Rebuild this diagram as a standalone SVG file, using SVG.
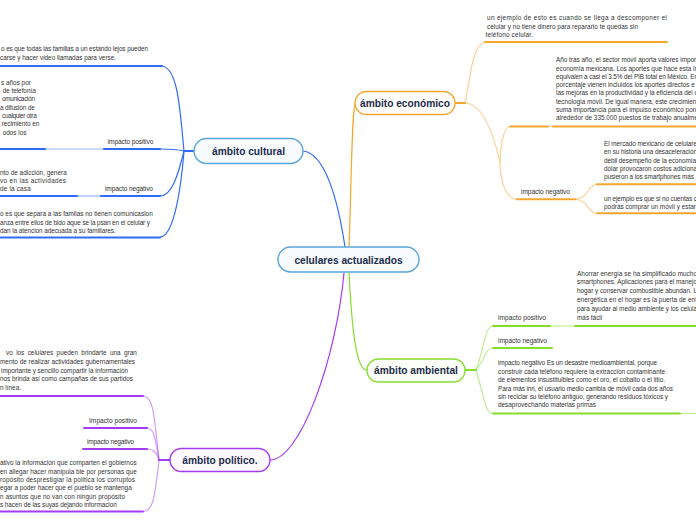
<svg xmlns="http://www.w3.org/2000/svg" width="696" height="520" viewBox="0 0 696 520">
<style>
text{font-family:"Liberation Sans",Arial,sans-serif;fill:#333;font-size:6.4px}
.lbl{font-size:6.6px}
.node text{font-weight:bold;fill:#1c2b4b;font-size:10.2px}
.u{fill:none;stroke-width:2;stroke-linecap:round}
.c{fill:none;stroke-width:1.2}
.blue{stroke:#2f6cf6}
.org{stroke:#f7a531}
.grn{stroke:#86dc2c}
.pur{stroke:#a53cf2}
.lt{stroke-opacity:0.5}
</style>
<rect width="696" height="520" fill="#ffffff"/>
<g id="connectors">
  <!-- main branches -->
  <path class="c blue" d="M345,247 C338,200 325,153 303,151" stroke-width="1.6"/>
  <path class="c org" d="M349,247 C352,160 352,103 356,103" stroke-width="1.6"/>
  <path class="c grn" d="M349,273 C352,330 356,370 367,370" stroke-width="1.6"/>
  <path class="c pur" d="M344,273 C336,360 300,460 270,460" stroke-width="1.6"/>
  <!-- cultural -->
  <path class="u blue" d="M184,151 L194,151"/>
  <path class="c blue" d="M184,151 C180,110 178,68 162,66"/>
  <path class="c blue" d="M184,151 C175,149 170,149 160,149"/>
  <path class="c blue" d="M184,151 C178,175 172,196 160,196"/>
  <path class="c blue" d="M184,151 C180,200 172,237 160,237"/>
  <path class="u blue" d="M0,66 L162,66"/>
  <path class="u blue" d="M104,149 L160,149"/>
  <path class="c blue lt" d="M45,149 L104,149"/>
  <path class="u blue" d="M0,149 L45,149"/>
  <path class="u blue" d="M101,196 L160,196"/>
  <path class="c blue lt" d="M77,196 L101,196"/>
  <path class="u blue" d="M0,196 L77,196"/>
  <path class="u blue" d="M0,237.5 L160,237.5"/>
  <!-- economico -->
  <path class="u org" d="M455,103 L465,103"/>
  <path class="c org lt" d="M465,103 C470,80 472,45 485,42"/>
  <path class="c org lt" d="M465,103 C485,103 496,145 500,162"/>
  <path class="c org lt" d="M510,126.5 C503,126.5 500,150 500,162 C500,178 505,199.3 517,199.3"/>
  <path class="u org" d="M485,42 L667,42"/>
  <path class="u org" d="M510,126.5 L548,126.5"/>
  <path class="c org lt" d="M548,126.5 L553,126.5"/>
  <path class="u org" d="M553,126.5 L696,126.5"/>
  <path class="u org" d="M517,199.3 L575,199.3"/>
  <path class="c org lt" d="M575,199.3 C588,199.3 588,184.3 597,184.3"/>
  <path class="c org lt" d="M575,199.3 C588,199.3 588,213.3 597,213.3"/>
  <path class="u org" d="M597,184.3 L696,184.3"/>
  <path class="u org" d="M597,213.3 L696,213.3"/>
  <!-- ambiental -->
  <path class="u grn" d="M465,370 L476,370"/>
  <path class="c grn lt" d="M476,370 C485,345 485,326 493,326"/>
  <path class="c grn lt" d="M476,370 C485,360 485,348 493,348"/>
  <path class="c grn lt" d="M476,370 C485,400 485,413.5 493,413.5"/>
  <path class="u grn" d="M493,326 L550,326"/>
  <path class="c grn lt" d="M550,326 L575,326"/>
  <path class="u grn" d="M575,326 L696,326"/>
  <path class="u grn" d="M493,348 L552,348"/>
  <path class="u grn" d="M493,413.5 L680,413.5"/>
  <path class="c grn lt" d="M680,413.5 L696,413.5"/>
  <!-- politico -->
  <path class="u pur" d="M159,460 L170,460"/>
  <path class="c pur lt" d="M159,460 C154,412 153,396 143,396"/>
  <path class="c pur lt" d="M159,460 C155,437 154,428 147,428"/>
  <path class="c pur lt" d="M159,460 C156,452 154,449 147,449"/>
  <path class="c pur lt" d="M159,460 C155,497 153,511.5 143,511.5"/>
  <path class="u pur" d="M0,396 L143,396"/>
  <path class="u pur" d="M84,428 L147,428"/>
  <path class="u pur" d="M83,449 L147,449"/>
  <path class="u pur" d="M0,511.5 L143,511.5"/>
</g>
<g id="central" class="node">
  <rect x="278" y="247" width="141" height="25" rx="12.5" fill="#f7fbfe" stroke="#5aa5dc" stroke-width="1.4"/>
  <text x="348.5" y="263.5" text-anchor="middle" font-size="10.4px">celulares actualizados</text>
</g>
<g id="cultural" class="node">
  <rect x="194" y="138.5" width="109" height="25" rx="12.5" fill="#f7fbfe" stroke="#5aa5dc" stroke-width="1.4"/>
  <text x="248.5" y="155" text-anchor="middle">ámbito cultural</text>
</g>
<g id="economico" class="node">
  <rect x="355" y="91.5" width="100" height="23" rx="11.5" fill="#fffdf9" stroke="#f7a531" stroke-width="1.4"/>
  <text x="405" y="106.5" text-anchor="middle" font-size="9.4px">ámbito económico</text>
</g>
<g id="ambiental" class="node">
  <rect x="367" y="359" width="98" height="23" rx="11.5" fill="#fbfff7" stroke="#86dc2c" stroke-width="1.4"/>
  <text x="416" y="374" text-anchor="middle" font-size="9.4px">ámbito  ambiental</text>
</g>
<g id="politico" class="node">
  <rect x="170" y="448.5" width="100" height="23" rx="11.5" fill="#fdf9ff" stroke="#a53cf2" stroke-width="1.4"/>
  <text x="220" y="463.5" text-anchor="middle" font-size="9.4px">ámbito  político.</text>
</g>
<g id="cultural-texts">
  <text x="1" y="50.5" textLength="147" lengthAdjust="spacing">o es que todas las familias a un estando lejos pueden</text>
  <text x="0" y="59.5" textLength="116" lengthAdjust="spacing">carse y hacer video llamadas para verse.</text>
  <text x="1" y="85" font-size="6.9px">s años por</text>
  <text x="2.7" y="93.2" textLength="33" lengthAdjust="spacing">de telefonía</text>
  <text x="2" y="101.4" textLength="33" lengthAdjust="spacing">omunicación</text>
  <text x="0" y="109.6" textLength="34.7" lengthAdjust="spacing">a difusión de</text>
  <text x="2" y="117.8" textLength="34.7" lengthAdjust="spacing">cualquier otra</text>
  <text x="1.7" y="126.2" textLength="37.6" lengthAdjust="spacing">recimiento en</text>
  <text x="2.7" y="135.2">odos los</text>
  <text class="lbl" x="107.7" y="144" textLength="45.6" lengthAdjust="spacing">impacto positivo</text>
  <text x="0" y="174.6" textLength="66.7" lengthAdjust="spacing">nto de adicción, genera</text>
  <text x="0" y="183" textLength="66" lengthAdjust="spacing">vo en las actividades</text>
  <text x="0" y="191.3" textLength="30.7" lengthAdjust="spacing">de la casa</text>
  <text class="lbl" x="105" y="191.3" textLength="48" lengthAdjust="spacing">impacto negativo</text>
  <text x="0" y="215.6" textLength="152.7" lengthAdjust="spacing">o  es que separa a las familas  no tienen comunicasion</text>
  <text x="0" y="224.6" textLength="150" lengthAdjust="spacing">anza entre ellos de bido aque se la psan en el celular y</text>
  <text x="0" y="233" textLength="115.7" lengthAdjust="spacing">dan la atencion adecuada a su familiares.</text>
</g>
<g id="economico-texts">
  <text x="487" y="20" textLength="180" lengthAdjust="spacing">un ejemplo de esto es cuando se llega a descomponer el</text>
  <text x="487" y="28.6" textLength="151" lengthAdjust="spacing">celular y no tiene dinero para repararlo te quedas sin</text>
  <text x="485.5" y="37.3" textLength="47.5" lengthAdjust="spacing">teléfono celular.</text>
  <text x="556" y="62.3" textLength="142" lengthAdjust="spacing">Año tras año, el sector móvil aporta valores import</text>
  <text x="556" y="70.5" textLength="142" lengthAdjust="spacing">economía mexicana. Los aportes que hace esta in</text>
  <text x="556" y="78.8" textLength="142" lengthAdjust="spacing">equivalen a casi el 3.5% del PIB total en México. En</text>
  <text x="556" y="87" textLength="142" lengthAdjust="spacing">porcentaje vienen incluidos los aportes directos e i</text>
  <text x="556" y="95.3" textLength="142" lengthAdjust="spacing">las mejoras en la productividad y la eficiencia del u</text>
  <text x="556" y="103.5" textLength="142" lengthAdjust="spacing">tecnología móvil. De igual manera, este crecimient</text>
  <text x="556" y="111.8" textLength="142" lengthAdjust="spacing">suma importancia para el impulso económico porc</text>
  <text x="556" y="120" textLength="142" lengthAdjust="spacing">alrededor de 335.000 puestos de trabajo anualme</text>
  <text x="604" y="146.3" textLength="93" lengthAdjust="spacing">El mercado mexicano de celulare</text>
  <text x="604" y="154.4" textLength="93" lengthAdjust="spacing">en su historia una desaceleración</text>
  <text x="604" y="162.5" textLength="92" lengthAdjust="spacing">débil desempeño de la economía</text>
  <text x="604" y="170.8" textLength="93" lengthAdjust="spacing">dólar provocaron costos adiciona</text>
  <text x="604" y="179" textLength="90" lengthAdjust="spacing">pusieron a los smartphones más</text>
  <text class="lbl" x="521" y="194" textLength="49" lengthAdjust="spacing">impacto negativo</text>
  <text x="604" y="200.6" textLength="93" lengthAdjust="spacing">un ejemplo es que si no cuentas c</text>
  <text x="604" y="209" textLength="92" lengthAdjust="spacing">podrás comprar un móvil y estar</text>
</g>
<g id="ambiental-texts">
  <text x="577" y="275.5" textLength="120" lengthAdjust="spacing">Ahorrar energía se ha simplificado mucho</text>
  <text x="577" y="284.4" textLength="120" lengthAdjust="spacing">smartphones. Aplicaciones para el manejo</text>
  <text x="577" y="293.3" textLength="120" lengthAdjust="spacing">hogar y conservar combustible abundan. L</text>
  <text x="577" y="302.2" textLength="120" lengthAdjust="spacing">energética en el hogar es la puerta de ent</text>
  <text x="577" y="311.1" textLength="120" lengthAdjust="spacing">para ayudar al medio ambiente y los celula</text>
  <text x="577" y="320">más fácil</text>
  <text class="lbl" x="498" y="320" textLength="48" lengthAdjust="spacing">impacto positivo</text>
  <text class="lbl" x="498" y="343" textLength="49" lengthAdjust="spacing">impacto negativo</text>
  <text x="498" y="365.3" textLength="159" lengthAdjust="spacing">impacto negativo Es un desastre medioambiental, porque</text>
  <text x="498" y="373.7" textLength="167" lengthAdjust="spacing">construir cada teléfono requiere la extracción contaminante</text>
  <text x="498" y="382.1" textLength="167" lengthAdjust="spacing">de elementos insustituibles como el oro, el cobalto o el litio.</text>
  <text x="498" y="390.5" textLength="175" lengthAdjust="spacing">Para más inri, el usuario medio cambia de móvil cada dos años</text>
  <text x="498" y="398.9" textLength="170" lengthAdjust="spacing">sin reciclar su teléfono antiguo, generando residuos tóxicos y</text>
  <text x="498" y="407.3" textLength="98" lengthAdjust="spacing">desaprovechando materias primas</text>
</g>
<g id="politico-texts">
  <text x="6" y="355" font-size="6.8px" word-spacing="1.6">vo  los celulares  pueden brindarte  una gran</text>
  <text x="0" y="363.8" textLength="135" lengthAdjust="spacing">mento  de realizar actividades gubernamentales</text>
  <text x="1" y="372.5" textLength="127" lengthAdjust="spacing">importante y sencillo compartir la información</text>
  <text x="0" y="381.2" textLength="133" lengthAdjust="spacing">nos brinda así como campañas de sus partidos</text>
  <text x="0" y="390">n línea.</text>
  <text class="lbl" x="89" y="423.3" textLength="48" lengthAdjust="spacing">Impacto  positivo</text>
  <text class="lbl" x="87" y="443.8" textLength="47" lengthAdjust="spacing">impacto negativo</text>
  <text x="0" y="465.3" textLength="136.7" lengthAdjust="spacing">ativo la información que  comparten el gobiernos</text>
  <text x="0" y="473.6" textLength="136.7" lengthAdjust="spacing">en allegar hacer manipula ble por personas que</text>
  <text x="0" y="481.9" textLength="135" lengthAdjust="spacing">ropósito desprestigiar  la politica los corruptos</text>
  <text x="0" y="490.2" textLength="131.7" lengthAdjust="spacing">egar a poder hacer que el pueblo se mantenga</text>
  <text x="0" y="498.5" textLength="125" lengthAdjust="spacing">n asuntos que no van con ningún propósito</text>
  <text x="0" y="506.8" textLength="116.7" lengthAdjust="spacing">s hacen de las suyas dejando informacion</text>
</g>
</svg>
